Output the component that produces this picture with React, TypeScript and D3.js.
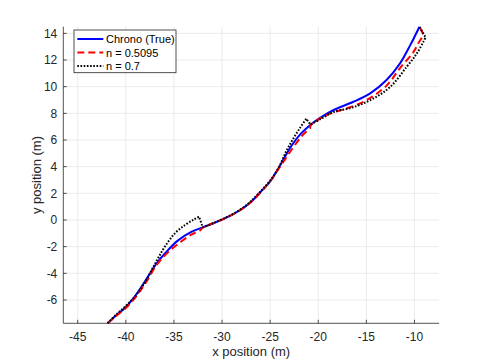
import React from "react";
import * as d3 from "d3";

type P = [number, number];

const xTicks = [-45, -40, -35, -30, -25, -20, -15, -10];
const yTicks = [-6, -4, -2, 0, 2, 4, 6, 8, 10, 12, 14];
const xDomain: P = [-46.5, -7.45];
const yDomain: P = [-7.75, 14.5];

const truthPath: P[] = [
  [-41.9, -7.75], [-41.0, -7.15], [-40.1, -6.6], [-39.3, -5.95], [-38.6, -5.25],
  [-38.0, -4.6], [-37.4, -3.9], [-36.8, -3.25], [-35.8, -2.4], [-34.6, -1.55],
  [-33.2, -0.9], [-32.0, -0.55], [-30.8, -0.22], [-29.5, 0.2], [-28.1, 0.75],
  [-27.0, 1.35], [-26.0, 2.1], [-25.0, 2.9], [-24.2, 3.8], [-23.5, 4.7],
  [-22.8, 5.55], [-21.9, 6.4], [-20.8, 7.15], [-19.6, 7.75], [-18.4, 8.25],
  [-16.4, 8.85], [-14.6, 9.5], [-12.9, 10.5], [-11.5, 11.75], [-10.45, 13.1],
  [-9.48, 14.5],
];

const n05095Segments: P[][] = [
  [[-41.9, -7.75], [-41.0, -7.2], [-40.0, -6.6], [-39.1, -5.9], [-38.4, -5.2],
   [-37.7, -4.45], [-37.1, -3.7], [-36.5, -3.1], [-35.5, -2.35], [-34.3, -1.65],
   [-33.2, -1.1], [-32.3, -0.8]],
  [[-32.0, -0.55], [-30.8, -0.2], [-29.4, 0.22], [-28.0, 0.8], [-26.9, 1.4],
   [-25.9, 2.15], [-25.0, 2.9], [-24.2, 3.75], [-23.4, 4.6], [-22.6, 5.45],
   [-21.7, 6.3], [-20.85, 6.9]],
  [[-20.8, 7.15], [-19.6, 7.7], [-18.3, 8.1], [-17.0, 8.38], [-14.95, 9.0],
   [-12.87, 10.1], [-11.5, 11.4], [-10.1, 12.6], [-9.6, 13.25], [-9.06, 13.9]],
  [[-9.48, 14.5]],
];

const n07Segments: P[][] = [
  [[-41.9, -7.75], [-41.0, -7.1], [-40.0, -6.45], [-39.0, -5.7], [-38.3, -5.0],
   [-37.7, -4.3], [-37.2, -3.6], [-36.6, -2.8], [-35.9, -1.95], [-34.9, -1.0],
   [-33.8, -0.35], [-32.9, 0.05], [-32.4, 0.25]],
  [[-32.0, -0.55], [-30.8, -0.2], [-29.5, 0.22], [-28.1, 0.78], [-27.0, 1.4],
   [-26.0, 2.15], [-25.0, 2.95], [-24.1, 3.95], [-23.3, 5.2], [-22.6, 6.1],
   [-21.9, 6.9], [-21.25, 7.6]],
  [[-20.8, 7.15], [-19.7, 7.6], [-18.4, 8.1], [-16.4, 8.45], [-14.3, 9.1],
   [-12.5, 10.0], [-10.8, 11.5], [-9.75, 12.5], [-9.05, 13.4], [-8.85, 13.7]],
  [[-9.48, 14.5]],
];

const legendLabels = ["Chrono (True)", "n = 0.5095", "n = 0.7"];

const W = 485;
const H = 363;
const M = { left: 63.3, right: 439, top: 26.7, bottom: 323.3 };
const FONT = "'Liberation Sans', Arial, Helvetica, sans-serif";
const AX = "#262626";

export default function App() {
  const x = d3.scaleLinear().domain(xDomain).range([M.left, M.right]);
  const y = d3.scaleLinear().domain(yDomain).range([M.bottom, M.top]);
  const line = d3
    .line<P>()
    .x((d) => x(d[0]))
    .y((d) => y(d[1]))
    .curve(d3.curveCatmullRom.alpha(0.5));

  const pathFor = (segs: P[][]) =>
    segs
      .map((s, i) => {
        if (s.length === 1) return `L${x(s[0][0])},${y(s[0][1])}`;
        const d = line(s) || "";
        return i === 0 ? d : d.replace(/^M/, "L");
      })
      .join("");

  const series = [
    { d: line(truthPath) || "", color: "#0000ff", dash: undefined as string | undefined, w: 2 },
    { d: pathFor(n05095Segments), color: "#ff0000", dash: "7,4", w: 2 },
    { d: pathFor(n07Segments), color: "#000000", dash: "1.6,1.6", w: 2 },
  ];

  const lg = { x: 74, y: 30, w: 102, h: 42.7 };

  return (
    <svg
      width={W}
      height={H}
      style={{ position: "absolute", left: 0, top: 0, background: "#fff" }}
      fontFamily={FONT}
    >
      <rect x={0} y={0} width={W} height={H} fill="#fff" />
      {/* grid */}
      {xTicks.map((t) => (
        <line key={"gx" + t} x1={x(t)} x2={x(t)} y1={M.top} y2={M.bottom} stroke="#e6e6e6" strokeWidth={0.8} />
      ))}
      {yTicks.map((t) => (
        <line key={"gy" + t} x1={M.left} x2={M.right} y1={y(t)} y2={y(t)} stroke="#e6e6e6" strokeWidth={0.8} />
      ))}
      {/* data */}
      {series.map((s, i) => (
        <path
          key={i}
          d={s.d}
          fill="none"
          stroke={s.color}
          strokeWidth={s.w}
          strokeDasharray={s.dash}
          strokeLinejoin="round"
        />
      ))}
      {/* axes */}
      <line x1={M.left} x2={M.left} y1={M.top} y2={M.bottom} stroke={AX} strokeWidth={0.8} />
      <line x1={M.left} x2={M.right} y1={M.bottom} y2={M.bottom} stroke={AX} strokeWidth={0.8} />
      {xTicks.map((t) => (
        <g key={"tx" + t}>
          <line x1={x(t)} x2={x(t)} y1={M.bottom} y2={M.bottom - 3.5} stroke={AX} strokeWidth={0.8} />
          <text x={x(t)} y={M.bottom + 18} textAnchor="middle" fontSize={12} fill={AX}>
            {String(t)}
          </text>
        </g>
      ))}
      {yTicks.map((t) => (
        <g key={"ty" + t}>
          <line x1={M.left} x2={M.left + 3.5} y1={y(t)} y2={y(t)} stroke={AX} strokeWidth={0.8} />
          <text x={M.left - 6} y={y(t) + 4.2} textAnchor="end" fontSize={12} fill={AX}>
            {String(t)}
          </text>
        </g>
      ))}
      <text x={(M.left + M.right) / 2} y={356} textAnchor="middle" fontSize={13} fill={AX}>
        x position (m)
      </text>
      <text
        transform={`translate(41,${(M.top + M.bottom) / 2}) rotate(-90)`}
        textAnchor="middle"
        fontSize={13}
        fill={AX}
      >
        y position (m)
      </text>
      {/* legend */}
      <rect x={lg.x} y={lg.y} width={lg.w} height={lg.h} fill="#fff" stroke={AX} strokeWidth={0.8} />
      {series.map((s, i) => {
        const yy = 39 + i * 13.5;
        return (
          <g key={"lg" + i}>
            <line x1={77.3} x2={103.3} y1={yy} y2={yy} stroke={s.color} strokeWidth={s.w} strokeDasharray={s.dash} />
            <text x={106} y={yy + 4} fontSize={11} fill="#000">
              {legendLabels[i]}
            </text>
          </g>
        );
      })}
    </svg>
  );
}
